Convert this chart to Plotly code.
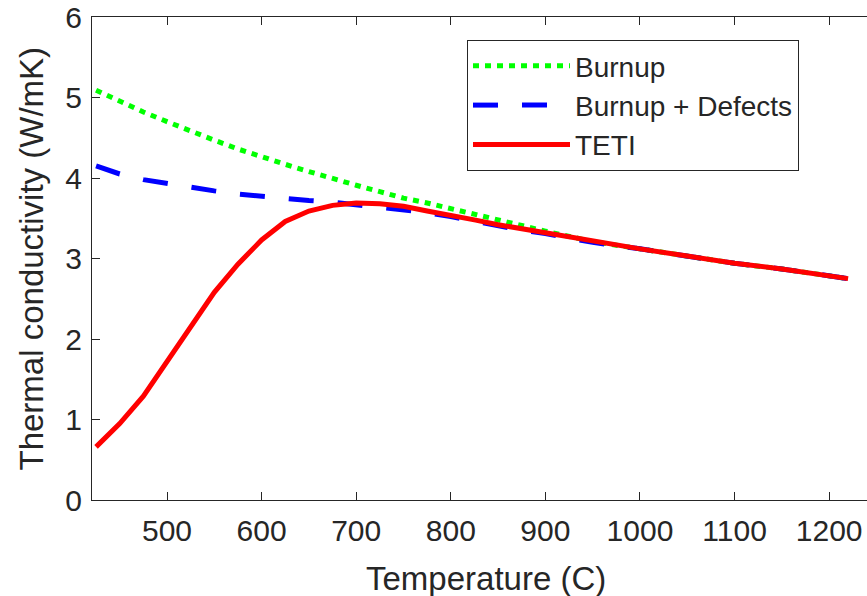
import plotly.graph_objects as go

# Temperature grid (C)
temperature = [425, 450, 475, 500, 525, 550, 575, 600, 625, 650, 675, 700, 725, 750,
               775, 800, 825, 850, 875, 900, 950, 1000, 1050, 1100, 1150, 1200, 1220]

# Thermal conductivity (W/mK)
burnup = [5.09, 4.95, 4.82, 4.70, 4.58, 4.47, 4.36, 4.26, 4.17, 4.08, 3.99, 3.91, 3.83, 3.75,
          3.69, 3.62, 3.55, 3.48, 3.40, 3.34, 3.21, 3.12, 3.03, 2.94, 2.87, 2.79, 2.75]
burnup_defects = [4.15, 4.05, 3.98, 3.93, 3.88, 3.84, 3.80, 3.77, 3.74, 3.72, 3.70, 3.67, 3.64, 3.61,
                  3.57, 3.52, 3.46, 3.40, 3.35, 3.31, 3.20, 3.12, 3.03, 2.94, 2.87, 2.79, 2.75]
teti = [0.66, 0.95, 1.29, 1.72, 2.17, 2.58, 2.93, 3.23, 3.46, 3.59, 3.66, 3.69, 3.68, 3.65,
        3.59, 3.54, 3.48, 3.42, 3.37, 3.32, 3.21, 3.12, 3.03, 2.94, 2.87, 2.79, 2.75]

x_ticks = [500, 600, 700, 800, 900, 1000, 1100, 1200]
y_ticks = [0, 1, 2, 3, 4, 5, 6]

FONT = "Liberation Sans, Arial, Helvetica, sans-serif"
TXT = "#262626"

fig = go.Figure()
fig.add_trace(go.Scatter(x=temperature, y=burnup, mode="lines", name="Burnup",
                         line=dict(color="#00FF00", width=5, dash="6px,6px")))
fig.add_trace(go.Scatter(x=temperature, y=burnup_defects, mode="lines", name="Burnup + Defects",
                         line=dict(color="#0000FF", width=5, dash="25px,24px")))
fig.add_trace(go.Scatter(x=temperature, y=teti, mode="lines", name="TETI",
                         line=dict(color="#FF0000", width=5)))

L, T, B = 92, 17, 96
W, H = 867, 596
pw = W - L
ph = H - T - B

fig.update_layout(
    width=W, height=H,
    margin=dict(l=L, r=0, t=T, b=B, pad=0),
    paper_bgcolor="white", plot_bgcolor="white",
    font=dict(family=FONT, size=30, color=TXT),
    showlegend=True,
    legend=dict(x=(467 - L) / pw, y=1 - (40 - T) / ph, xanchor="left", yanchor="top",
                bgcolor="white", bordercolor=TXT, borderwidth=1,
                font=dict(family=FONT, size=28, color=TXT),
                itemwidth=97, tracegroupgap=0,
                entrywidth=365, entrywidthmode="pixels"),
    xaxis=dict(range=[420.7, 1240], tickvals=x_ticks, ticks="inside", ticklen=8,
               tickcolor=TXT, showline=True, linecolor=TXT, linewidth=1, mirror="ticks",
               showgrid=False, zeroline=False, tickfont=dict(size=30, color=TXT),
               ticklabelstandoff=4),
    yaxis=dict(range=[0, 6], tickvals=y_ticks, ticks="inside", ticklen=8,
               tickcolor=TXT, showline=True, linecolor=TXT, linewidth=1, mirror=False,
               showgrid=False, zeroline=False, tickfont=dict(size=30, color=TXT),
               ticklabelstandoff=3),
    annotations=[
        dict(text="Temperature (C)", xref="paper", yref="paper",
             x=(486 - L) / pw, y=-(578 - (T + ph)) / ph, xanchor="center", yanchor="middle",
             showarrow=False, font=dict(family=FONT, size=33, color=TXT)),
        dict(text="Thermal conductivity (W/mK)", xref="paper", yref="paper",
             x=-(L - 31) / pw, y=0.5, xanchor="center", yanchor="middle", textangle=-90,
             showarrow=False, font=dict(family=FONT, size=33, color=TXT)),
    ],
)

fig.write_html("out.html")
